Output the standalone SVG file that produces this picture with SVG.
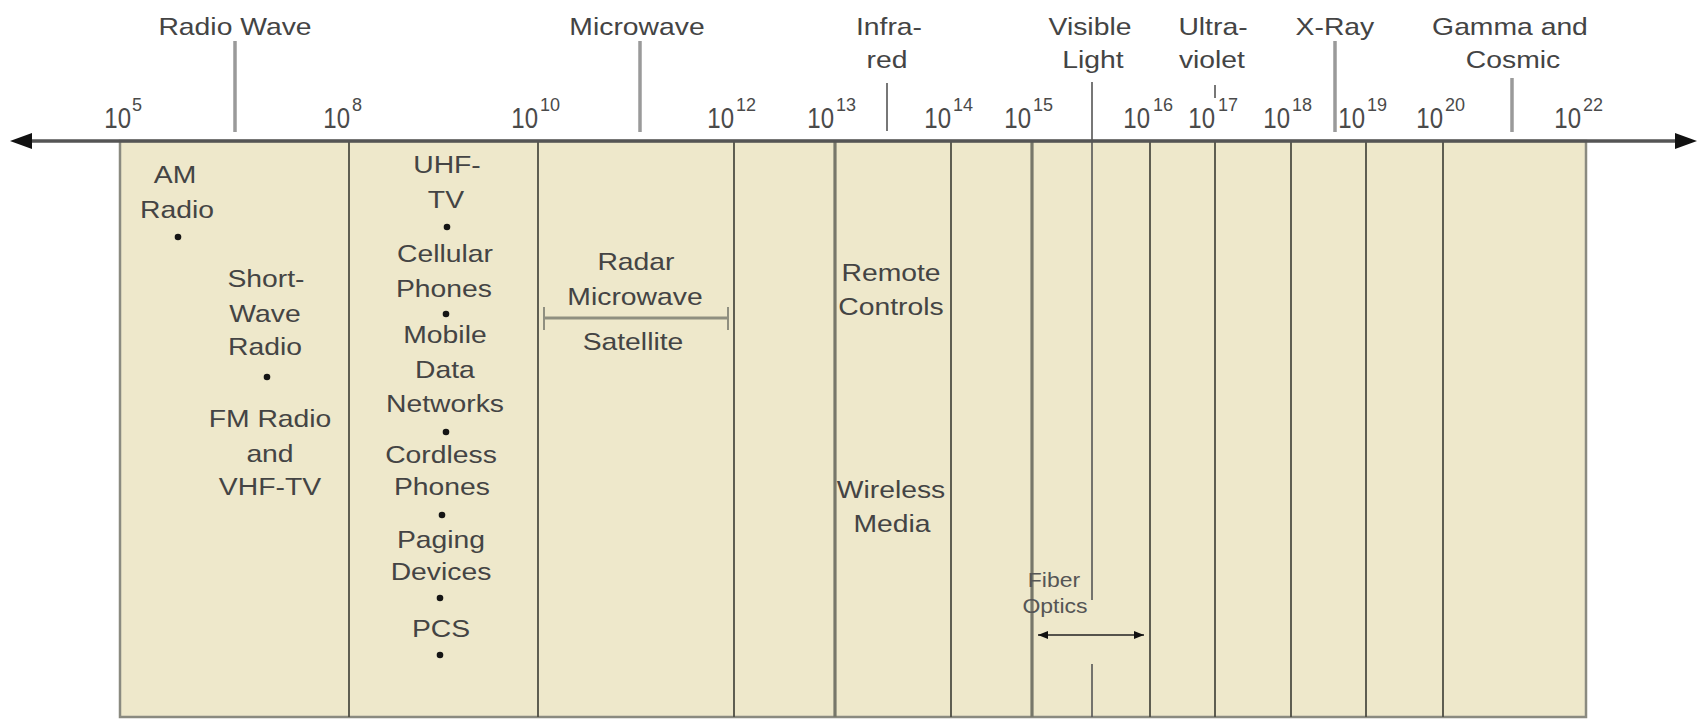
<svg xmlns="http://www.w3.org/2000/svg" width="1706" height="720" viewBox="0 0 1706 720">
<defs>
<style>
text{font-family:"Liberation Sans",Arial,sans-serif;fill:#444;}
.t{font-size:24px;text-anchor:middle;transform-box:fill-box;transform-origin:center;transform:scaleX(1.18);}
.d{font-size:30px;text-anchor:end;transform-box:fill-box;transform-origin:right center;transform:scaleX(0.8);fill:#4a4a4a;}
.s{font-size:18px;text-anchor:start;fill:#4a4a4a;}
.f{font-size:20px;text-anchor:middle;fill:#555;transform-box:fill-box;transform-origin:center;transform:scaleX(1.15);}
.dot{fill:#151515;}
.thin{stroke:#4e4e44;stroke-width:1.8;fill:none;}
.thick{stroke:#77776a;stroke-width:3.2;fill:none;}
.band{stroke:#9a9a9a;stroke-width:3.5;fill:none;}
.bandthin{stroke:#555;stroke-width:1.6;fill:none;}
</style>
<marker id="fa" viewBox="0 0 10 10" refX="10" refY="5" markerWidth="14" markerHeight="10" markerUnits="userSpaceOnUse" orient="auto-start-reverse">
<path d="M0,1 L10,5 L0,9 Z" fill="#111"/>
</marker>
</defs>
<rect width="1706" height="720" fill="#ffffff"/>
<rect id="spectrum-area" x="120" y="141" width="1466" height="576" fill="#eee8cb" stroke="#8a8a80" stroke-width="2.5"/>

<g id="connectors">
<line class="thin" x1="349" y1="141" x2="349" y2="717"/>
<line class="thin" x1="538" y1="141" x2="538" y2="717"/>
<line class="thin" x1="734" y1="141" x2="734" y2="717"/>
<line class="thick" x1="835" y1="141" x2="835" y2="717"/>
<line class="thin" x1="951" y1="141" x2="951" y2="717"/>
<line class="thick" x1="1032" y1="141" x2="1032" y2="717"/>
<line class="thin" x1="1150" y1="141" x2="1150" y2="717"/>
<line class="thin" x1="1215" y1="141" x2="1215" y2="717"/>
<line class="thin" x1="1291" y1="141" x2="1291" y2="717"/>
<line class="thin" x1="1366" y1="141" x2="1366" y2="717"/>
<line class="thin" x1="1443" y1="141" x2="1443" y2="717"/>
<line class="bandthin" x1="1092" y1="82" x2="1092" y2="600"/>
<line class="bandthin" x1="1092" y1="664" x2="1092" y2="717"/>
<line class="band" x1="235" y1="41" x2="235" y2="132"/>
<line class="band" x1="640" y1="41" x2="640" y2="132"/>
<line class="bandthin" x1="887" y1="83" x2="887" y2="131"/>
<line class="bandthin" x1="1215" y1="85" x2="1215" y2="98"/>
<line class="band" x1="1335" y1="41" x2="1335" y2="132"/>
<line class="band" x1="1512" y1="78" x2="1512" y2="132"/>
<line x1="28" y1="141" x2="1680" y2="141" stroke="#555" stroke-width="3.5"/>
<path d="M10,141 L32,133 L32,149 Z" fill="#111"/>
<path d="M1697,141 L1675,133 L1675,149 Z" fill="#111"/>
<line x1="544" y1="318" x2="728" y2="318" stroke="#8f8f80" stroke-width="3"/>
<line x1="544" y1="307" x2="544" y2="330" stroke="#8f8f80" stroke-width="2"/>
<line x1="728" y1="307" x2="728" y2="330" stroke="#8f8f80" stroke-width="2"/>
<line x1="1038" y1="635" x2="1144" y2="635" stroke="#222" stroke-width="1.6" marker-start="url(#fa)" marker-end="url(#fa)"/>
</g>

<g id="band-labels">
<g id="radio-wave"><text class="t" x="235" y="35">Radio Wave</text></g>
<g id="microwave"><text class="t" x="637" y="35">Microwave</text></g>
<g id="infrared"><text class="t" x="889" y="35">Infra-</text><text class="t" x="887" y="68">red</text></g>
<g id="visible-light"><text class="t" x="1090" y="35">Visible</text><text class="t" x="1093" y="68">Light</text></g>
<g id="ultraviolet"><text class="t" x="1213" y="35">Ultra-</text><text class="t" x="1212" y="68">violet</text></g>
<g id="x-ray"><text class="t" x="1335" y="35">X-Ray</text></g>
<g id="gamma"><text class="t" x="1510" y="35">Gamma and</text><text class="t" x="1513" y="68">Cosmic</text></g>
</g>

<g id="tick-labels">
<g id="t5"><text class="d" x="131" y="128">10</text><text class="s" x="132" y="111">5</text></g>
<g id="t8"><text class="d" x="350" y="128">10</text><text class="s" x="352" y="111">8</text></g>
<g id="t10"><text class="d" x="538" y="128">10</text><text class="s" x="540" y="111">10</text></g>
<g id="t12"><text class="d" x="734" y="128">10</text><text class="s" x="736" y="111">12</text></g>
<g id="t13"><text class="d" x="834" y="128">10</text><text class="s" x="836" y="111">13</text></g>
<g id="t14"><text class="d" x="951" y="128">10</text><text class="s" x="953" y="111">14</text></g>
<g id="t15"><text class="d" x="1031" y="128">10</text><text class="s" x="1033" y="111">15</text></g>
<g id="t16"><text class="d" x="1150" y="128">10</text><text class="s" x="1153" y="111">16</text></g>
<g id="t17"><text class="d" x="1215" y="128">10</text><text class="s" x="1218" y="111">17</text></g>
<g id="t18"><text class="d" x="1290" y="128">10</text><text class="s" x="1292" y="111">18</text></g>
<g id="t19"><text class="d" x="1365" y="128">10</text><text class="s" x="1367" y="111">19</text></g>
<g id="t20"><text class="d" x="1443" y="128">10</text><text class="s" x="1445" y="111">20</text></g>
<g id="t22"><text class="d" x="1581" y="128">10</text><text class="s" x="1583" y="111">22</text></g>
</g>

<g id="am-radio"><text class="t" x="175" y="183">AM</text><text class="t" x="177" y="218">Radio</text><circle class="dot" cx="178" cy="237" r="3.3"/></g>
<g id="short-wave"><text class="t" x="266" y="287">Short-</text><text class="t" x="265" y="322">Wave</text><text class="t" x="265" y="355">Radio</text><circle class="dot" cx="267" cy="377" r="3.3"/></g>
<g id="fm-radio"><text class="t" x="270" y="427">FM Radio</text><text class="t" x="270" y="462">and</text><text class="t" x="270" y="495">VHF-TV</text></g>

<g id="uhf-tv"><text class="t" x="447" y="173">UHF-</text><text class="t" x="446" y="208">TV</text><circle class="dot" cx="447" cy="227" r="3.3"/></g>
<g id="cellular"><text class="t" x="445" y="262">Cellular</text><text class="t" x="444" y="297">Phones</text><circle class="dot" cx="446" cy="314" r="3.3"/></g>
<g id="mobile-data"><text class="t" x="445" y="343">Mobile</text><text class="t" x="445" y="378">Data</text><text class="t" x="445" y="412">Networks</text><circle class="dot" cx="446" cy="432" r="3.3"/></g>
<g id="cordless"><text class="t" x="441" y="463">Cordless</text><text class="t" x="442" y="495">Phones</text><circle class="dot" cx="442" cy="515" r="3.3"/></g>
<g id="paging"><text class="t" x="441" y="548">Paging</text><text class="t" x="441" y="580">Devices</text><circle class="dot" cx="440" cy="598" r="3.3"/></g>
<g id="pcs"><text class="t" x="441" y="637">PCS</text><circle class="dot" cx="440" cy="655" r="3.3"/></g>

<g id="radar"><text class="t" x="636" y="270">Radar</text><text class="t" x="635" y="305">Microwave</text><text class="t" x="633" y="350">Satellite</text></g>
<g id="remote"><text class="t" x="891" y="281">Remote</text><text class="t" x="891" y="315">Controls</text></g>
<g id="wireless"><text class="t" x="891" y="498">Wireless</text><text class="t" x="892" y="532">Media</text></g>
<g id="fiber"><text class="f" x="1054" y="587">Fiber</text><text class="f" x="1055" y="613">Optics</text></g>
</svg>
